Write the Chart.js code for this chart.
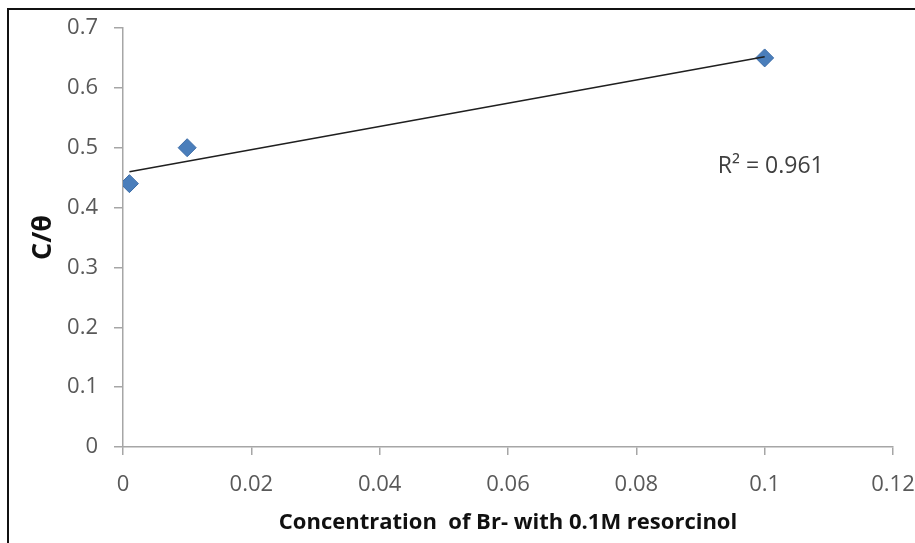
<!DOCTYPE html>
<html>
<head>
<meta charset="utf-8">
<script src="https://cdn.jsdelivr.net/npm/chart.js@4.4.1/dist/chart.umd.min.js"></script>
<style>
  html, body { margin: 0; padding: 0; background: #fff; }
  #wrap { position: relative; width: 915px; height: 543px; overflow: hidden; }
  #frame { position: absolute; left: 7px; top: 8px; right: -10px; bottom: -10px;
           border-top: 2.5px solid #111; border-left: 2.5px solid #111; pointer-events: none; }
  canvas { position: absolute; left: 0; top: 0; }
</style>
</head>
<body>
<div id="wrap">
  <canvas id="c" width="915" height="543"></canvas>
  <div id="frame"></div>
</div>
<script>
// ---- data ----
const concentration = [0.001, 0.01, 0.1];
const cOverTheta = [0.44, 0.50, 0.65];
const trendX = [0.001, 0.1];
const trendY = [0.46, 0.652];
const xTicks = [0, 0.02, 0.04, 0.06, 0.08, 0.1, 0.12];
const yTicks = [0, 0.1, 0.2, 0.3, 0.4, 0.5, 0.6, 0.7];
const rSquaredLabel = 'R\u00B2 = 0.961';
const xTitle = 'Concentration  of Br- with 0.1M resorcinol';
const yTitle = 'C/\u03B8';

const FONT = "'Open Sans', 'DejaVu Sans', sans-serif";
const AXIS = '#a6a6a6';
const TEXT = '#595959';

const fmt = v => String(parseFloat(Number(v).toFixed(4)));

const r2Plugin = {
  id: 'r2',
  afterDatasetsDraw(chart) {
    const {ctx, scales} = chart;
    const x = scales.x.getPixelForValue(0.0927);
    const y = scales.y.getPixelForValue(0.468);
    ctx.save();
    ctx.font = "23px " + FONT;
    ctx.fillStyle = '#404040';
    ctx.textAlign = 'left';
    ctx.textBaseline = 'middle';
    ctx.fillText(rSquaredLabel, x, y);
    ctx.restore();
  }
};

new Chart(document.getElementById('c'), {
  type: 'scatter',
  data: {
    datasets: [
      {
        label: 'trend',
        data: trendX.map((x, i) => ({x, y: trendY[i]})),
        showLine: true,
        borderColor: '#1f1f1f',
        borderWidth: 1.5,
        pointRadius: 0,
        order: 0
      },
      {
        label: 'C/θ',
        data: concentration.map((x, i) => ({x, y: cOverTheta[i]})),
        pointStyle: 'rectRot',
        pointRadius: 9,
        backgroundColor: '#4a7ebb',
        borderColor: '#3d6da8',
        borderWidth: 1,
        order: 1
      }
    ]
  },
  options: {
    responsive: false,
    animation: false,
    layout: { padding: { top: 28, right: 22, bottom: 0, left: 0 } },
    plugins: { legend: { display: false }, tooltip: { enabled: false } },
    scales: {
      x: {
        type: 'linear',
        min: 0, max: 0.12,
        afterBuildTicks: s => { s.ticks = xTicks.map(v => ({value: v})); },
        afterFit: s => { s.height = 96; s.paddingLeft = 0; s.paddingRight = 0; },
        ticks: { callback: fmt, color: TEXT, font: { family: FONT, size: 22 }, padding: 17, maxRotation: 0 },
        grid: { drawOnChartArea: false, drawTicks: true, tickLength: 8, color: AXIS, lineWidth: 1.5 },
        border: { color: AXIS, width: 1.5 },
        title: { display: true, text: xTitle, color: '#111', font: { family: FONT, size: 22, weight: 'bold' }, padding: { top: 0, bottom: 7 } }
      },
      y: {
        type: 'linear',
        min: 0, max: 0.7,
        afterBuildTicks: s => { s.ticks = yTicks.map(v => ({value: v})); },
        afterFit: s => { s.width = 123; s.paddingTop = 0; s.paddingBottom = 0; },
        ticks: { callback: fmt, color: TEXT, font: { family: FONT, size: 22 }, padding: 16 },
        grid: { drawOnChartArea: false, drawTicks: true, tickLength: 9, color: AXIS, lineWidth: 1.5 },
        border: { color: AXIS, width: 1.5 },
        title: { display: true, text: yTitle, color: '#111', font: { family: FONT, size: 27, weight: 'bold' }, padding: { top: 27, bottom: 0 } }
      }
    }
  },
  plugins: [r2Plugin]
});
</script>
</body>
</html>
